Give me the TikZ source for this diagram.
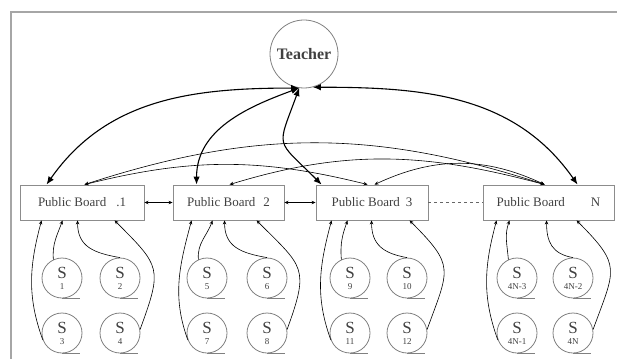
\documentclass[tikz,border=0pt]{standalone}
\usepackage{fontspec}
\setmainfont{Liberation Serif}
\usetikzlibrary{arrows.meta}

\tikzset{
  board/.style={draw=black!45, line width=0.9pt, minimum height=35pt, inner sep=0pt,
    font=\fontsize{13}{13}\selectfont, text=black!75},
  pupil/.style={draw=black!50, line width=0.8pt, circle, minimum size=40pt, inner sep=0pt,
    align=center, font=\fontsize{17}{15}\selectfont, text=black!75},
  tail/.style={draw=black!50, line width=0.8pt},
  big link/.style={line width=1.1pt, {Latex[length=8pt,width=6.5pt]}-{Latex[length=8pt,width=6.5pt]}},
  board link/.style={line width=0.6pt, {Stealth[length=4pt,width=3.5pt]}-{Stealth[length=4pt,width=3.5pt]}},
  up link/.style={line width=0.6pt, -{Stealth[length=4pt,width=3.5pt]}},
}
\newcommand{\pupilnum}[1]{\\[-4pt]{\fontsize{9}{9}\selectfont #1}}

\begin{document}
\begin{tikzpicture}[x=1pt,y=-1pt]
\useasboundingbox (0,0) rectangle (617,358);
\draw[black!35, line width=1.5pt] (11,360) -- (11,12) -- (620,12);

\node[circle, draw=black!50, line width=0.8pt, minimum size=68pt, inner sep=0pt,
  font=\fontsize{16}{16}\selectfont\bfseries, text=black!75] (teacher) at (304,54) {Teacher};

% public boards
\node[board, minimum width=124pt] (b1) at (82,202.5) {Public Board\hspace{10pt}.1};
\node[board, minimum width=111pt] (b2) at (228.5,202.5) {Public Board\hspace{8pt}2};
\node[board, minimum width=112pt] (b3) at (372,202.5) {Public Board\hspace{6pt}3};
\node[board, minimum width=131pt] (b4) at (548.5,202.5) {Public Board\hspace{26pt}N};

\draw[board link] (b1.east) -- (b2.west);
\draw[board link] (b2.east) -- (b3.west);
\draw[black!60, line width=0.6pt, dashed] (b3.east) -- (b4.west);

% teacher to boards
\draw[big link] (teacher.262) to[out=180,in=55] ([xshift=27pt]b1.north west);
\draw[big link] (teacher.262) to[out=200,in=90] ([xshift=24pt]b2.north west);
\draw[big link] (teacher.262) to[out=-110,in=135,looseness=1.7] ([xshift=6pt]b3.north west);
\draw[big link] (teacher.285) to[out=0,in=125] ([xshift=95pt]b4.north west);

% boards to boards
\draw[board link] ([xshift=65pt]b1.north west) to[out=14,in=166] ([xshift=52pt]b3.north west);
\draw[board link] ([xshift=65pt]b1.north west) to[out=18,in=162] ([xshift=62pt]b4.north west);
\draw[board link] ([xshift=57pt]b2.north west) to[out=17,in=165] ([xshift=62pt]b4.north west);
\draw[board link] ([xshift=59pt]b3.north west) to[out=25,in=155] ([xshift=62pt]b4.north west);

% students
\foreach \g/\sx/\tx/\la/\lb/\lc/\ld/\da/\db/\dc/\dd in
  {1/62/120/1/2/3/4/43/58/22/95,
   2/207/267/5/6/7/8/40/52/19/84,
   3/350/407/9/10/11/12/32/56/16/94,
   4/517/573/4N-3/4N-2/4N-1/4N/27/64/14/94} {
  \node[pupil] (s\g a) at (\sx,278) {S\pupilnum{\la}};
  \node[pupil] (s\g b) at (\tx,278) {S\pupilnum{\lb}};
  \node[pupil] (s\g c) at (\sx,333) {S\pupilnum{\lc}};
  \node[pupil] (s\g d) at (\tx,333) {S\pupilnum{\ld}};
  \foreach \p in {a,b,c,d}
    \draw[tail] (s\g\p.south) -- ++(18,0);
  \draw[up link] (s\g a.115) to[out=95,in=-110] ([xshift=\da pt]b\g.south west);
  \draw[up link] (s\g b.north) to[out=170,in=-90,looseness=1.2] ([xshift=\db pt]b\g.south west);
  \draw[up link] (s\g c.200) to[out=110,in=-105] ([xshift=\dc pt]b\g.south west);
  \draw[up link] (s\g d.10) to[out=70,in=-45,looseness=1.5] ([xshift=\dd pt]b\g.south west);
}
\end{tikzpicture}
\end{document}
